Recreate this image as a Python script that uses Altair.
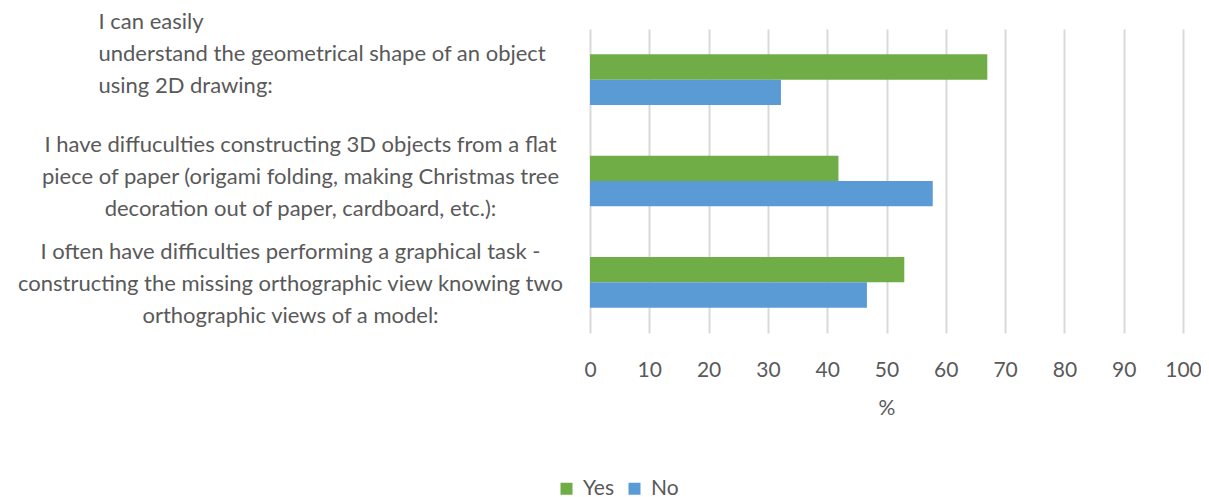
import altair as alt
import pandas as pd

categories = [
    "I can easily\nunderstand the geometrical shape of an object\nusing 2D drawing:",
    "I have diffuculties constructing 3D objects from a flat\npiece of paper (origami folding, making Christmas tree\ndecoration out of paper, cardboard, etc.):",
    "I often have difficulties performing a graphical task -\nconstructing the missing orthographic view knowing two\northographic views of a model:",
]
series = ["Yes", "No"]
yes_values = [67.0, 41.9, 53.0]
no_values = [32.2, 57.8, 46.7]
colors = ["#70AD47", "#5B9BD5"]
ticks = [0, 10, 20, 30, 40, 50, 60, 70, 80, 90, 100]

rows = []
for c, y, n in zip(categories, yes_values, no_values):
    rows.append({"cat": c, "answer": "Yes", "value": y})
    rows.append({"cat": c, "answer": "No", "value": n})
df = pd.DataFrame(rows)

font = "Lato"
text_color = "#595959"
is_first = "indexof(datum.value, 'I can easily') == 0"
is_second = "indexof(datum.value, 'I have') == 0"
is_third = "indexof(datum.value, 'I often') == 0"

chart = (
    alt.Chart(df)
    .mark_bar()
    .encode(
        y=alt.Y(
            "cat:N",
            sort=categories,
            scale=alt.Scale(paddingInner=0.5, paddingOuter=0.25),
            axis=alt.Axis(
                title=None,
                labelExpr="split(datum.label, '\\n')",
                labelAlign={"condition": {"test": is_first, "value": "left"}, "value": "center"},
                labelBaseline="middle",
                labelPadding={
                    "condition": [
                        {"test": is_first, "value": 492},
                        {"test": is_third, "value": 300},
                    ],
                    "value": 290,
                },
                labelLimit=0,
                labelLineHeight=32,
                labelFontSize=22,
                labelColor=text_color,
                labelFont=font,
                labelOffset={
                    "condition": [
                        {"test": is_first, "value": -58},
                        {"test": is_second, "value": -36},
                    ],
                    "value": -30,
                },
                ticks=False,
                domain=False,
                grid=False,
            ),
        ),
        yOffset=alt.YOffset("answer:N", sort=series),
        x=alt.X(
            "value:Q",
            scale=alt.Scale(domain=[0, 100]),
            axis=alt.Axis(
                values=ticks,
                title="%",
                grid=True,
                gridColor="#D9D9D9",
                gridWidth=2,
                domain=False,
                ticks=False,
                labelFlush=False,
                labelPadding=26,
                labelFontSize=21,
                labelColor=text_color,
                labelFont=font,
                titleFont=font,
                titleFontSize=21,
                titleFontWeight="normal",
                titleColor=text_color,
                titlePadding=17,
            ),
        ),
        color=alt.Color(
            "answer:N",
            sort=series,
            scale=alt.Scale(domain=series, range=colors),
            legend=alt.Legend(
                title=None,
                orient="none",
                legendX=-34,
                legendY=449,
                direction="horizontal",
                symbolType="square",
                symbolSize=144,
                symbolStrokeWidth=0,
                labelFontSize=21,
                labelFont=font,
                labelColor=text_color,
                columnPadding=10,
                labelOffset=6,
            ),
        ),
    )
    .properties(
        width=593,
        height=304,
        autosize="none",
        padding={"left": 582, "top": 21, "right": 18, "bottom": 166},
    )
    .configure_view(stroke=None)
)

chart.save("out.html", embed_options={"renderer": "svg", "actions": False})
